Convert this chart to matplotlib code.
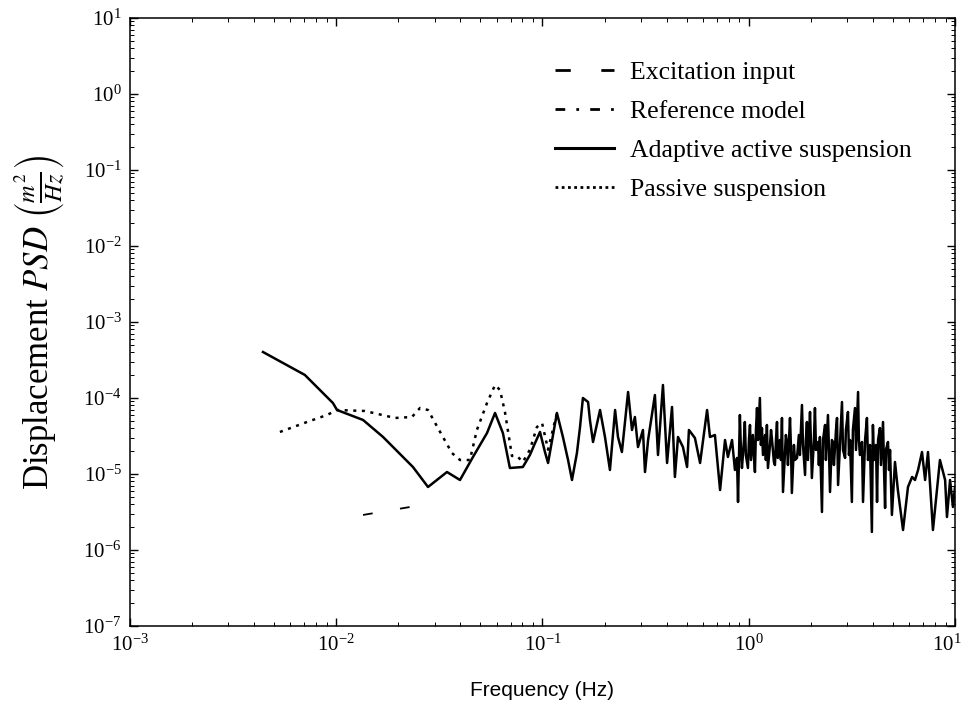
import numpy as np
import matplotlib
matplotlib.use("Agg")
import matplotlib.pyplot as plt
import matplotlib.transforms as mtransforms
from matplotlib.lines import Line2D
from matplotlib.ticker import LogLocator, LogFormatterSciNotation, NullFormatter

# ---- data (log10 of frequency in Hz, log10 of PSD in m^2/Hz) ----
active_logf = [
    -2.355, -2.152, -2.016, -1.996, -1.870, -1.773, -1.628, -1.555, -1.463, -1.400,
    -1.337, -1.269, -1.230, -1.192, -1.158, -1.095, -1.061, -1.036, -1.012, -0.988,
    -0.973, -0.930, -0.901, -0.876, -0.857, -0.833, -0.818, -0.804, -0.779, -0.770,
    -0.755, -0.721, -0.697, -0.673, -0.648, -0.634, -0.615, -0.585, -0.566, -0.552,
    -0.537, -0.513, -0.503, -0.488, -0.455, -0.440, -0.416, -0.396, -0.372, -0.358,
    -0.343, -0.319, -0.299, -0.290, -0.261, -0.236, -0.202, -0.188, -0.164, -0.139,
    -0.115, -0.101, -0.081,
    -0.067, -0.057, -0.052, -0.043, -0.038, -0.033, -0.023, -0.019, -0.014, -0.004,
    0.001, 0.006, 0.011, 0.020, 0.025, 0.030, 0.035, 0.040, 0.045, 0.054,
    0.059, 0.064, 0.069, 0.079, 0.083, 0.088, 0.093, 0.103, 0.108, 0.112,
    0.122, 0.127, 0.132, 0.137, 0.141, 0.151, 0.156, 0.161, 0.166, 0.176,
    0.180, 0.185, 0.190, 0.200, 0.205, 0.209, 0.219, 0.224, 0.234, 0.243,
    0.248, 0.258, 0.263, 0.273, 0.277, 0.282, 0.287, 0.297, 0.302, 0.306,
    0.316, 0.321, 0.326, 0.336, 0.340, 0.345, 0.355, 0.360, 0.370, 0.374,
    0.384, 0.389, 0.394, 0.403, 0.408, 0.413, 0.423, 0.428, 0.433, 0.442,
    0.452, 0.457, 0.467, 0.471, 0.481, 0.486, 0.491, 0.500, 0.505, 0.515,
    0.520, 0.530, 0.534, 0.539, 0.549, 0.554, 0.564, 0.573, 0.578, 0.588,
    0.597, 0.602, 0.607, 0.617, 0.622, 0.627, 0.636, 0.641, 0.651, 0.656,
    0.661, 0.665, 0.675, 0.680, 0.685, 0.694, 0.709, 0.723, 0.748, 0.772,
    0.792, 0.806, 0.821, 0.840, 0.855, 0.869, 0.893, 0.927, 0.952, 0.961,
    0.976, 0.990, 1.000,
]
active_logpsd = [
    -3.395, -3.697, -4.066, -4.158, -4.289, -4.513, -4.908, -5.171, -4.974, -5.079,
    -4.776, -4.461, -4.197, -4.461, -4.921, -4.908, -4.750, -4.592, -4.447, -4.711,
    -4.855, -4.197, -4.513, -4.816, -5.079, -4.724, -4.382, -4.000, -4.053, -4.289,
    -4.579, -4.158, -4.513, -4.947, -4.158, -4.513, -4.711, -3.921, -4.421, -4.250,
    -4.645, -4.421, -4.974, -4.553, -3.961, -4.750, -3.829, -4.855, -4.118, -5.039,
    -4.513, -4.645, -4.908, -4.421, -4.526, -4.855, -4.158, -4.513, -4.487, -5.211,
    -4.553, -4.776, -4.553,
    -4.947, -4.789, -5.368, -4.224, -4.684, -4.921, -4.553, -4.316, -4.750, -4.921,
    -4.553, -4.355, -4.816, -4.487, -4.750, -4.974, -4.421, -4.132, -4.553, -4.000,
    -4.618, -4.395, -4.750, -4.487, -4.816, -4.355, -4.921, -4.618, -4.421, -4.526,
    -4.842, -4.882, -4.553, -4.316, -4.789, -4.553, -4.816, -4.263, -5.237, -4.684,
    -4.487, -4.579, -4.882, -4.263, -4.684, -5.250, -4.618, -4.816, -4.789, -4.487,
    -4.750, -4.092, -4.618, -5.013, -4.553, -4.316, -4.816, -4.184, -4.618, -5.053,
    -4.553, -4.132, -4.684, -4.579, -4.882, -4.513, -5.500, -4.553, -4.355, -4.816,
    -4.224, -4.684, -5.237, -4.553, -4.579, -4.882, -4.421, -4.263, -5.145, -4.618,
    -4.053, -4.684, -4.789, -4.421, -4.184, -4.750, -4.553, -5.368, -4.421, -4.132,
    -4.684, -3.921, -4.553, -4.750, -4.579, -5.368, -4.553, -4.263, -4.816, -4.618,
    -5.763, -4.355, -4.816, -4.618, -5.368, -4.553, -4.395, -4.882, -4.316, -4.947,
    -5.447, -4.684, -4.579, -4.947, -4.684, -5.539, -4.842, -5.211, -5.737, -5.171,
    -5.039, -5.079, -4.947, -4.711, -5.079, -4.711, -5.737, -4.816, -5.079, -5.566,
    -5.079, -5.434, -5.171,
]

passive_logf = [
    -2.273, -2.142, -2.045, -1.996, -1.861, -1.715, -1.633, -1.594, -1.555, -1.507,
    -1.439, -1.400, -1.352, -1.318, -1.269, -1.230, -1.206, -1.182, -1.148, -1.124,
    -1.095, -1.061, -1.027, -1.002, -0.973, -0.930,
]
passive_logpsd = [
    -4.447, -4.316, -4.224, -4.158, -4.171, -4.263, -4.250, -4.132, -4.158, -4.395,
    -4.724, -4.816, -4.816, -4.421, -4.066, -3.829, -3.895, -4.184, -4.763, -4.763,
    -4.842, -4.680, -4.382, -4.329, -4.680, -4.197,
]

excitation_logf = [-1.870, -1.642]
excitation_logpsd = [-5.539, -5.434]

x_tick_exps = [-3, -2, -1, 0, 1]
y_tick_exps = [-7, -6, -5, -4, -3, -2, -1, 0, 1]

series_labels = ["Excitation input", "Reference model",
                 "Adaptive active suspension", "Passive suspension"]

# ---- style ----
plt.rcParams['font.family'] = ['Liberation Serif', 'DejaVu Serif']
plt.rcParams['mathtext.fontset'] = 'stix'
plt.rcParams['lines.scale_dashes'] = False

fig = plt.figure(figsize=(9.67, 7.15), dpi=100)
ax = fig.add_axes([0.1344, 0.1245, 0.8532, 0.8503])
ax.set_xscale('log')
ax.set_yscale('log')

ax.plot(10.0 ** np.array(excitation_logf), 10.0 ** np.array(excitation_logpsd),
        color='black', lw=1.3, linestyle=(0, (7, 20)))
ax.plot(10.0 ** np.array(passive_logf), 10.0 ** np.array(passive_logpsd),
        color='black', lw=1.8, linestyle=(0, (2.2, 4)))
ax.plot(10.0 ** np.array(active_logf), 10.0 ** np.array(active_logpsd),
        color='black', lw=1.8)

ax.set_xlim(10.0 ** x_tick_exps[0], 10.0 ** x_tick_exps[-1])
ax.set_ylim(10.0 ** y_tick_exps[0], 10.0 ** y_tick_exps[-1])

ax.xaxis.set_major_locator(plt.FixedLocator([10.0 ** k for k in x_tick_exps]))
ax.yaxis.set_major_locator(plt.FixedLocator([10.0 ** k for k in y_tick_exps]))
ax.xaxis.set_major_formatter(LogFormatterSciNotation())
ax.yaxis.set_major_formatter(LogFormatterSciNotation())
ax.xaxis.set_minor_locator(LogLocator(base=10, subs=np.arange(2, 10), numticks=20))
ax.yaxis.set_minor_locator(LogLocator(base=10, subs=np.arange(2, 10), numticks=20))
ax.xaxis.set_minor_formatter(NullFormatter())
ax.yaxis.set_minor_formatter(NullFormatter())
ax.tick_params(which='both', direction='in', top=True, right=True)
ax.tick_params(which='major', length=6, width=1, labelsize=15, pad=6)
ax.tick_params(which='minor', length=3, width=0.7)
for s in ax.spines.values():
    s.set_linewidth(1.1)

# keep the rightmost frequency label inside the canvas
fig.canvas.draw()
last_label = ax.get_xticklabels()[-1]
last_label.set_transform(last_label.get_transform() +
                         mtransforms.ScaledTranslation(-6 / 72, 0, fig.dpi_scale_trans))

ax.set_ylabel(r"Displacement $PSD$ $\left(\frac{m^2}{Hz}\right)$", fontsize=25, labelpad=12)
ax.set_xlabel("Frequency (Hz)", fontsize=15, labelpad=18,
              family=['Liberation Sans', 'DejaVu Sans'])

handles = [
    Line2D([], [], color='black', lw=2.0, linestyle=(0, (11, 22))),
    Line2D([], [], color='black', lw=2.0, linestyle=(0, (7, 8, 2, 8))),
    Line2D([], [], color='black', lw=2.2),
    Line2D([], [], color='black', lw=2.0, linestyle=(0, (2, 2.5))),
]
ax.legend(handles, series_labels, loc='upper left', bbox_to_anchor=(0.503, 0.946),
          frameon=False, fontsize=18.5, handlelength=2.3, handletextpad=0.6,
          labelspacing=0.62, borderaxespad=0.0)

fig.savefig("out.png", dpi=100)
